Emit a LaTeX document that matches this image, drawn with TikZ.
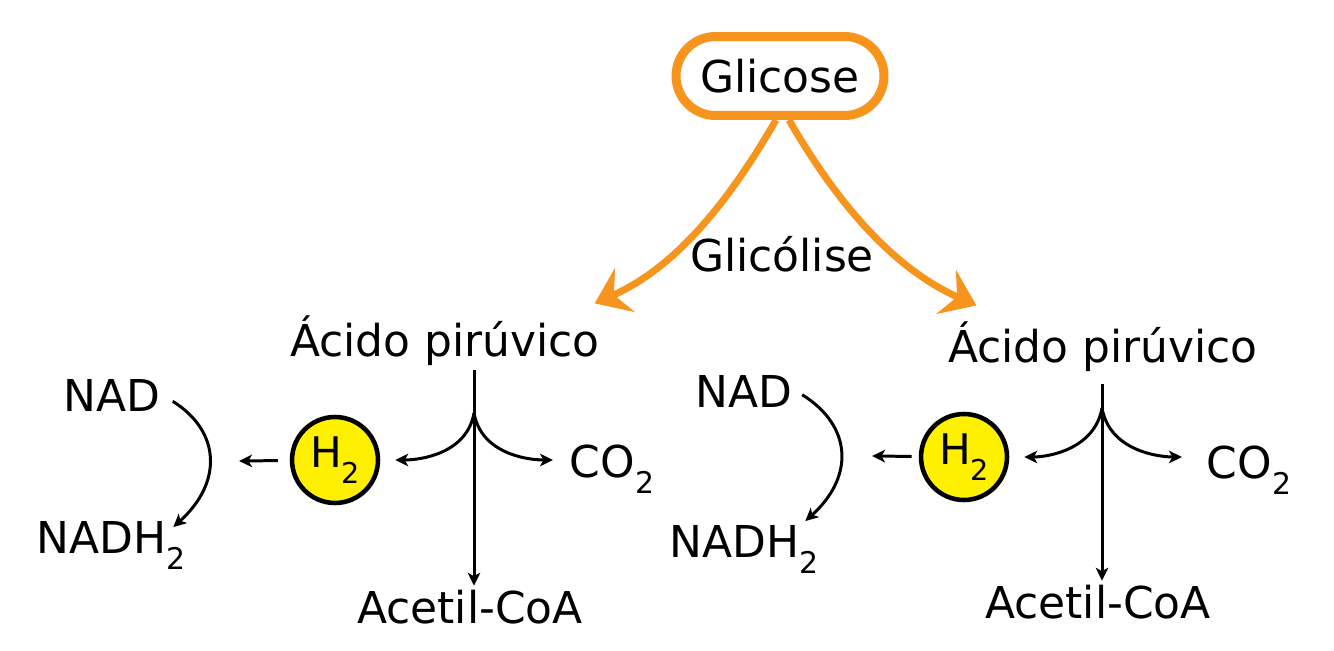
\documentclass[tikz,border=0pt]{standalone}
\usepackage{fontspec}
\setmainfont{DejaVu Sans}
\usepackage{graphicx}
\usetikzlibrary{arrows.meta,positioning}

\definecolor{glycorange}{RGB}{247,148,29}
\definecolor{hyellow}{RGB}{255,240,0}
\newcommand{\idx}[1]{\raisebox{-0.38em}{\scalebox{0.68}{#1}}}

\begin{document}
\begin{tikzpicture}[x=0.02cm,y=0.02cm,
    lbl/.style={font=\fontsize{25}{30}\selectfont, inner sep=2pt},
    sugar/.style={draw=glycorange, line width=0.18cm, rounded corners=0.79cm,
        minimum width=4.16cm, minimum height=1.58cm, inner sep=0pt,
        font=\fontsize{25}{30}\selectfont},
    hydro/.style={circle, draw, line width=2.6pt, fill=hyellow,
        minimum size=1.72cm, inner sep=0pt, font=\fontsize{24}{28}\selectfont},
    split/.style={draw=glycorange, line width=0.14cm,
        -{Stealth[length=0.66cm,width=0.96cm,inset=0.24cm]}},
    conn/.style={line width=1.7pt, -{Stealth[length=0.26cm,width=0.25cm,inset=0.07cm]}}]
    \useasboundingbox (0,0) rectangle (1334,-651);

    % Glucose and glycolysis
    \node[sugar] (glic) at (780,-76) {Glicose\hspace{0.32cm}};
    \node[lbl, anchor=base] (glyc) at (782,-272) {Glicólise};
    \node[lbl, anchor=base] (acidL) at (445,-357) {Ácido pirúvico};
    \node[lbl, anchor=base] (acidR) at (1103,-363) {Ácido pirúvico};
    \draw[split] ([xshift=-0.08cm]glic.south) to[out=-120, in=24, looseness=0.9]
        ([xshift=-0.18cm,yshift=0.18cm]acidL.north east);
    \draw[split] ([xshift=0.18cm]glic.south) to[out=-60, in=156, looseness=0.9]
        ([xshift=0.64cm,yshift=0.26cm]acidR.north west);

    % Left branch
    \node[hydro] (h2L) at (335,-460) {H\idx{2}};
    \node[lbl, anchor=base west] (co2L) at (566,-477) {CO\idx{2}};
    \node[lbl, anchor=base] (acetL) at (470,-623) {Acetil-CoA};
    \node[lbl, anchor=base] (nadL) at (112,-412) {NAD};
    \node[lbl, anchor=base] (nadhL) at (111,-553) {NADH\idx{2}};
    \coordinate (brL) at (474,-413);
    \coordinate (jL) at (239,-461);
    \draw[conn] (acidL.south -| brL) -- (acetL.north -| brL);
    \draw[conn, shorten >=8.5pt] (brL) to[out=-100, in=0] (h2L);
    \draw[conn, shorten >=7.4pt] (brL) to[out=-80, in=180] (co2L.west |- h2L.east);
    \draw[conn, shorten <=6.8pt] (h2L) -- (jL);
    \draw[conn, shorten <=5.7pt] (nadL.east) to[out=-32, in=42, looseness=1.3]
        ([xshift=-0.32cm,yshift=-0.2cm]nadhL.north east);

    % Right branch
    \node[hydro] (h2R) at (964,-457) {H\idx{2}};
    \node[lbl, anchor=base west] (co2R) at (1203,-478) {CO\idx{2}};
    \node[lbl, anchor=base] (acetR) at (1098,-618) {Acetil-CoA};
    \node[lbl, anchor=base] (nadR) at (744,-407) {NAD};
    \node[lbl, anchor=base] (nadhR) at (744,-557) {NADH\idx{2}};
    \coordinate (brR) at (1102,-408);
    \coordinate (jR) at (872,-456);
    \draw[conn, shorten <=4.5pt] (acidR.south -| brR) -- (acetR.north -| brR);
    \draw[conn, shorten >=8.5pt] (brR) to[out=-100, in=0] (h2R);
    \draw[conn, shorten >=12pt] (brR) to[out=-80, in=180] (co2R.west |- h2R.east);
    \draw[conn, shorten <=4pt] (h2R) -- (jR);
    \draw[conn, shorten <=4pt] (nadR.east) to[out=-32, in=42, looseness=1.3]
        ([xshift=-0.34cm]nadhR.north east);
\end{tikzpicture}
\end{document}
